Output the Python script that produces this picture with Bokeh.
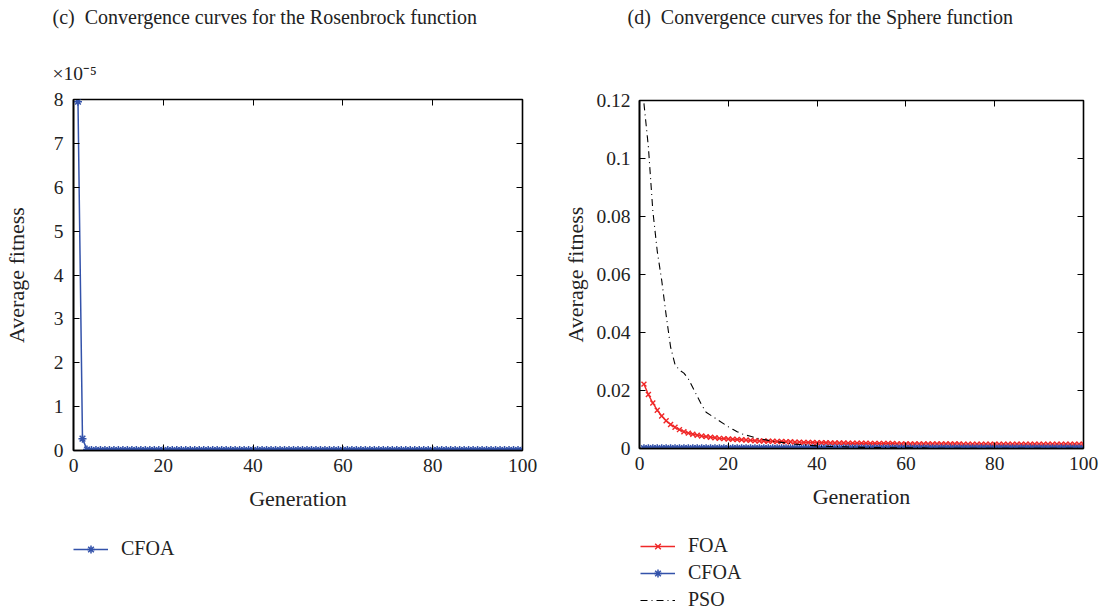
from bokeh.plotting import figure
from bokeh.models import (Legend, LegendItem, Title, FixedTicker, LinearAxis,
                          CustomJSTickFormatter, Range1d)
from bokeh.layouts import row, column
from bokeh.embed import file_html
from bokeh.resources import INLINE

FONT = "Liberation Serif"
RED = "#f02828"
BLUE = "#3352aa"
NAN = float("nan")

generations = list(range(1, 101))

# Rosenbrock, CFOA (values in units of 1e-5)
rosen_cfoa = [7.95, 0.27, 0.02, 0.01, 0.01, 0.01, 0.01, 0.01, 0.01, 0.01,
              0.01, 0.01, 0.01, 0.01, 0.01, 0.01, 0.01, 0.01, 0.01, 0.01,
              0.01, 0.01, 0.01, 0.01, 0.01, 0.01, 0.01, 0.01, 0.01, 0.01,
              0.01, 0.01, 0.01, 0.01, 0.01, 0.01, 0.01, 0.01, 0.01, 0.01,
              0.01, 0.01, 0.01, 0.01, 0.01, 0.01, 0.01, 0.01, 0.01, 0.01,
              0.01, 0.01, 0.01, 0.01, 0.01, 0.01, 0.01, 0.01, 0.01, 0.01,
              0.01, 0.01, 0.01, 0.01, 0.01, 0.01, 0.01, 0.01, 0.01, 0.01,
              0.01, 0.01, 0.01, 0.01, 0.01, 0.01, 0.01, 0.01, 0.01, 0.01,
              0.01, 0.01, 0.01, 0.01, 0.01, 0.01, 0.01, 0.01, 0.01, 0.01,
              0.01, 0.01, 0.01, 0.01, 0.01, 0.01, 0.01, 0.01, 0.01, 0.01]

# Sphere function
sphere_foa = [0.0222, 0.0186, 0.0157, 0.0132, 0.0112, 0.0096, 0.0083, 0.0073, 0.0065, 0.0058,
              0.0053, 0.0049, 0.0046, 0.0043, 0.0041, 0.0039, 0.0037, 0.0035, 0.0034, 0.0033,
              0.0032, 0.0031, 0.0030, 0.0029, 0.0028, 0.0027, 0.0026, 0.0026, 0.0025, 0.0025,
              0.0024, 0.0024, 0.0023, 0.0023, 0.0022, 0.0022, 0.0021, 0.0021, 0.0021, 0.0020,
              0.0020, 0.0020, 0.0019, 0.0019, 0.0019, 0.0019, 0.0018, 0.0018, 0.0018, 0.0018,
              0.0018, 0.0017, 0.0017, 0.0017, 0.0017, 0.0017, 0.0017, 0.0016, 0.0016, 0.0016,
              0.0016, 0.0016, 0.0016, 0.0016, 0.0016, 0.0016, 0.0016, 0.0016, 0.0016, 0.0016,
              0.0016, 0.0016, 0.0015, 0.0015, 0.0015, 0.0015, 0.0015, 0.0015, 0.0015, 0.0015,
              0.0015, 0.0015, 0.0015, 0.0015, 0.0015, 0.0015, 0.0015, 0.0015, 0.0015, 0.0015,
              0.0015, 0.0015, 0.0015, 0.0015, 0.0015, 0.0015, 0.0015, 0.0015, 0.0015, 0.0015]

sphere_cfoa = [0.0001, 0.0001, 0.0001, 0.0001, 0.0001, 0.0001, 0.0001, 0.0001, 0.0001, 0.0001,
               0.0001, 0.0001, 0.0001, 0.0001, 0.0001, 0.0001, 0.0001, 0.0001, 0.0001, 0.0001,
               0.0001, 0.0001, 0.0001, 0.0001, 0.0001, 0.0001, 0.0001, 0.0001, 0.0001, 0.0001,
               0.0001, 0.0001, 0.0001, 0.0001, 0.0001, 0.0001, 0.0001, 0.0001, 0.0001, 0.0001,
               0.0001, 0.0001, 0.0001, 0.0001, 0.0001, 0.0001, 0.0001, 0.0001, 0.0001, 0.0001,
               0.0001, 0.0001, 0.0001, 0.0001, 0.0001, 0.0001, 0.0001, 0.0001, 0.0001, 0.0001,
               0.0001, 0.0001, 0.0001, 0.0001, 0.0001, 0.0001, 0.0001, 0.0001, 0.0001, 0.0001,
               0.0001, 0.0001, 0.0001, 0.0001, 0.0001, 0.0001, 0.0001, 0.0001, 0.0001, 0.0001,
               0.0001, 0.0001, 0.0001, 0.0001, 0.0001, 0.0001, 0.0001, 0.0001, 0.0001, 0.0001,
               0.0001, 0.0001, 0.0001, 0.0001, 0.0001, 0.0001, 0.0001, 0.0001, 0.0001, 0.0001]

sphere_pso = [0.1190, 0.1040, 0.0820, 0.0680, 0.0580, 0.0460, 0.0350, 0.0290, 0.0270, 0.0260,
              0.0240, 0.0210, 0.0180, 0.0150, 0.0125, 0.0115, 0.0105, 0.0095, 0.0085, 0.0075,
              0.0066, 0.0058, 0.0051, 0.0046, 0.0042, 0.0038, 0.0034, 0.0031, 0.0028, 0.0025,
              0.0023, 0.0021, 0.0019, 0.0017, 0.0015, 0.0014, 0.0013, 0.0011, 0.0010, 0.0009,
              0.0008, 0.0008, 0.0007, 0.0007, 0.0006, 0.0006, 0.0005, 0.0005, 0.0005, 0.0004,
              0.0004, 0.0004, 0.0003, 0.0003, 0.0003, 0.0003, 0.0002, 0.0002, 0.0002, 0.0002,
              0.0002, 0.0002, 0.0002, 0.0002, 0.0001, 0.0001, 0.0001, 0.0001, 0.0001, 0.0001,
              0.0001, 0.0001, 0.0001, 0.0001, 0.0001, 0.0001, 0.0001, 0.0001, 0.0001, 0.0001,
              0.0001, 0.0001, 0.0001, 0.0001, 0.0001, 0.0001, 0.0001, 0.0001, 0.0001, 0.0001,
              0.0001, 0.0001, 0.0001, 0.0001, 0.0001, 0.0001, 0.0001, 0.0001, 0.0001, 0.0001]

x_ticks = [0, 20, 40, 60, 80, 100]
rosen_y_ticks = [0, 1, 2, 3, 4, 5, 6, 7, 8]
sphere_y_ticks = [0, 0.02, 0.04, 0.06, 0.08, 0.1, 0.12]
sphere_y_labels = ["0", "0.02", "0.04", "0.06", "0.08", "0.1", "0.12"]

TICK = "19.5px"
AXL = "22px"
TTL = "20px"
LEG = "20px"
TCOL = "#222222"


def base_fig(ymax, yticks, fw, fh, bl, br, bt, bb, ylab_standoff, ytick_standoff):
    p = figure(frame_width=fw, frame_height=fh,
               min_border_left=bl, min_border_right=br,
               min_border_top=bt, min_border_bottom=bb,
               x_range=Range1d(0, 100), y_range=Range1d(0, ymax),
               output_backend="svg", toolbar_location=None,
               background_fill_color="white", border_fill_color="white")
    p.grid.visible = False
    p.outline_line_color = "black"
    p.outline_line_width = 1.6
    p.outline_line_alpha = 1.0
    for ax in (p.xaxis[0], p.yaxis[0]):
        ax.major_tick_in = 6
        ax.major_tick_out = 0
        ax.minor_tick_line_color = None
        ax.axis_line_color = "black"
        ax.axis_line_width = 1.6
        ax.major_tick_line_color = "black"
        ax.major_label_text_font = FONT
        ax.major_label_text_font_size = TICK
        ax.major_label_text_color = TCOL
        ax.axis_label_text_font = FONT
        ax.axis_label_text_font_size = AXL
        ax.axis_label_text_font_style = "normal"
        ax.axis_label_text_color = TCOL
    p.xaxis[0].ticker = FixedTicker(ticks=x_ticks)
    p.yaxis[0].ticker = FixedTicker(ticks=yticks)
    p.xaxis[0].axis_label = "Generation"
    p.yaxis[0].axis_label = "Average fitness"
    p.xaxis[0].major_label_standoff = 8
    p.yaxis[0].major_label_standoff = ytick_standoff
    p.xaxis[0].axis_label_standoff = 11
    p.yaxis[0].axis_label_standoff = ylab_standoff
    empty = CustomJSTickFormatter(code="return ''")
    top = LinearAxis(ticker=FixedTicker(ticks=x_ticks), formatter=empty,
                     major_tick_in=6, major_tick_out=0, minor_tick_line_color=None,
                     axis_line_color=None, major_label_standoff=0,
                     major_label_text_font_size="0px")
    right = LinearAxis(ticker=FixedTicker(ticks=yticks), formatter=empty,
                       major_tick_in=6, major_tick_out=0, minor_tick_line_color=None,
                       axis_line_color=None, major_label_standoff=0,
                       major_label_text_font_size="0px")
    p.add_layout(top, "above")
    p.add_layout(right, "right")
    p.title.text_font = FONT
    p.title.text_font_size = TTL
    p.title.text_font_style = "normal"
    p.title.text_color = TCOL
    p.title.align = "left"
    p.title.standoff = 0
    return p


def spacer(size_px, standoff):
    return Title(text=" ", text_font=FONT, text_font_size=size_px,
                 standoff=standoff, text_color="white")


def legend_fig(width, height):
    q = figure(width=width, height=height, min_border=0,
               x_range=Range1d(0, 1), y_range=Range1d(0, 1),
               x_axis_location=None, y_axis_location=None,
               output_backend="svg", toolbar_location=None,
               background_fill_color="white", border_fill_color="white")
    q.grid.visible = False
    q.outline_line_color = None
    return q


def make_legend(items, loc):
    return Legend(items=items, location=loc, padding=0, margin=0, spacing=4,
                  label_text_font=FONT, label_text_font_size=LEG,
                  label_text_color=TCOL,
                  glyph_width=35, glyph_height=20, label_height=20,
                  label_standoff=13, border_line_color=None,
                  background_fill_alpha=0)


# ---------- left: Rosenbrock ----------
p1 = base_fig(8, rosen_y_ticks, 449, 351, 73, 38, 99, 72, 22, 10)
p1.line(generations, rosen_cfoa, line_color=BLUE, line_width=1.5)
p1.scatter(generations, rosen_cfoa, marker="asterisk", size=8,
           line_color=BLUE, line_width=1.5)
p1.title.text = "(c)\u2002Convergence curves for the Rosenbrock function"
p1.title.offset = -21
p1.add_layout(Title(text="\u00d710\u207b\u2075", align="left", offset=-21,
                    standoff=32, text_font=FONT, text_font_size=TICK,
                    text_font_style="normal", text_color=TCOL), "above")
p1.add_layout(spacer("13px", 0), "above")

# legend-only panel below (placeholder renderers hold no visible data)
q1 = legend_fig(560, 91)
ql1 = q1.line([NAN], [NAN], line_color=BLUE, line_width=1.5)
qm1 = q1.scatter([NAN], [NAN], marker="asterisk", size=8, line_color=BLUE, line_width=1.5)
q1.add_layout(make_legend([LegendItem(label="CFOA", renderers=[ql1, qm1])], (0, 53)),
              "center")

# ---------- right: Sphere ----------
p2 = base_fig(0.12, sphere_y_ticks, 444, 348, 79, 25, 100, 72, 5, 9)
p2.yaxis[0].major_label_overrides = {t: s for t, s in zip(sphere_y_ticks, sphere_y_labels)}
p2.line(generations, sphere_foa, line_color=RED, line_width=1.4)
p2.scatter(generations, sphere_foa, marker="x", size=7, line_color=RED, line_width=1.4)
p2.line(generations, sphere_cfoa, line_color=BLUE, line_width=1.5)
p2.scatter(generations, sphere_cfoa, marker="asterisk", size=8,
           line_color=BLUE, line_width=1.5)
p2.line(generations, sphere_pso, line_color="black", line_width=1.1, line_dash="7 4 1 4")
p2.title.text = "(d)\u2002Convergence curves for the Sphere function"
p2.title.offset = -12
p2.add_layout(spacer("19px", 50), "above")

q2 = legend_fig(548, 91)
qf = q2.line([NAN], [NAN], line_color=RED, line_width=1.4)
qfm = q2.scatter([NAN], [NAN], marker="x", size=7, line_color=RED, line_width=1.4)
qc = q2.line([NAN], [NAN], line_color=BLUE, line_width=1.5)
qcm = q2.scatter([NAN], [NAN], marker="asterisk", size=8, line_color=BLUE, line_width=1.5)
qp = q2.line([NAN], [NAN], line_color="black", line_width=1.1, line_dash="7 4 1 4")
q2.add_layout(make_legend([LegendItem(label="FOA", renderers=[qf, qfm]),
                           LegendItem(label="CFOA", renderers=[qc, qcm]),
                           LegendItem(label="PSO", renderers=[qp])], (1, 0)),
              "center")

layout = row(column(p1, q1, spacing=0), column(p2, q2, spacing=0), spacing=0)
open("out.html", "w").write(file_html(layout, INLINE))
